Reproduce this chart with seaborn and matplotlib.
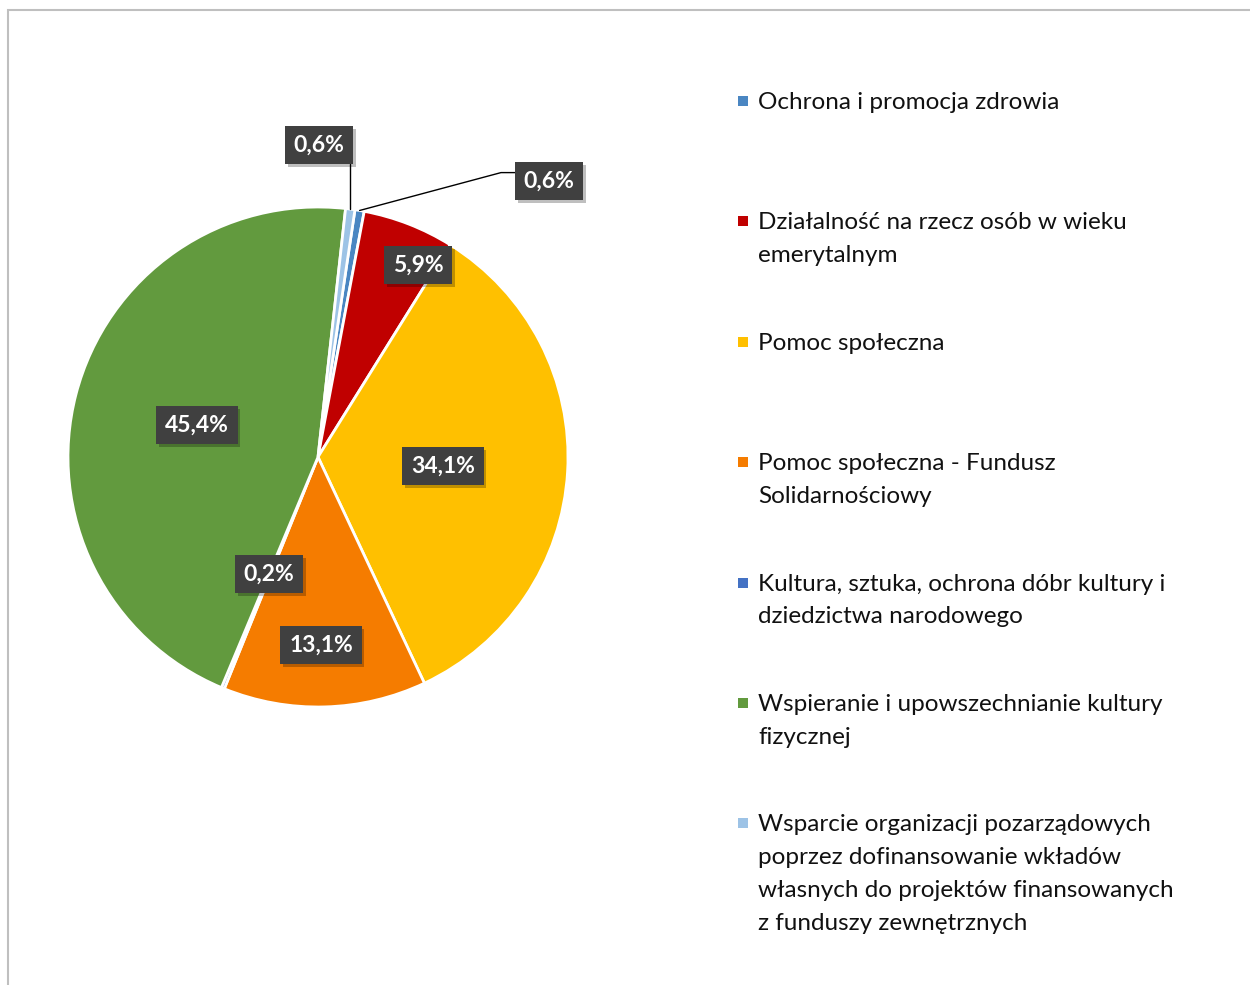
import matplotlib
matplotlib.use('Agg')
import matplotlib.pyplot as plt
import matplotlib.patheffects as pe
from matplotlib.patches import Rectangle
import numpy as np
import seaborn as sns

categories = [
    'Ochrona i promocja zdrowia',
    'Działalność na rzecz osób w wieku\nemerytalnym',
    'Pomoc społeczna',
    'Pomoc społeczna - Fundusz\nSolidarnościowy',
    'Kultura, sztuka, ochrona dóbr kultury i\ndziedzictwa narodowego',
    'Wspieranie i upowszechnianie kultury\nfizycznej',
    'Wsparcie organizacji pozarządowych\npoprzez dofinansowanie wkładów\n'
    'własnych do projektów finansowanych\nz funduszy zewnętrznych',
]
shares = [0.6, 5.9, 34.1, 13.1, 0.2, 45.4, 0.6]
value_labels = ['0,6%', '5,9%', '34,1%', '13,1%', '0,2%', '45,4%', '0,6%']
colors = ['#4A86C2', '#C00000', '#FFC000', '#F57C00', '#4472C4', '#629A3E', '#9DC3E6']

# label centres in pie units (radius = 1)
label_pos = [(0.924, 1.104), (0.40, 0.768), (0.50, -0.036), (0.012, -0.752),
             (-0.196, -0.468), (-0.484, 0.128), (0.004, 1.248)]

sns.set_theme(style='white')
plt.rcParams['font.family'] = ['Lato', 'DejaVu Sans']

W, H = 1250, 985
fig = plt.figure(figsize=(W / 100, H / 100), dpi=100)

# outer chart frame (only top and left edges visible)
fig.add_artist(Rectangle((8 / W, -0.1), 1.2, 1.1 - 9.5 / H, transform=fig.transFigure,
                         fill=False, ec='#BFBFBF', lw=1.5))

cx, cy, r = 318, 457, 250
ax = fig.add_axes([(cx - r) / W, (H - cy - r) / H, 2 * r / W, 2 * r / H])
wedges, _ = ax.pie(shares, colors=colors, startangle=81.5, counterclock=False,
                   radius=1, wedgeprops=dict(edgecolor='white', linewidth=2))
ax.set_xlim(-1, 1)
ax.set_ylim(-1, 1)
ax.set_aspect('equal')
ax.axis('off')

box = dict(boxstyle='square,pad=0.38', fc='#404040', ec='none')
for i, (w, lab) in enumerate(zip(wedges, value_labels)):
    mid = np.deg2rad((w.theta1 + w.theta2) / 2)
    edge = (np.cos(mid), np.sin(mid))
    arrow = None
    if i == 0:
        arrow = dict(arrowstyle='-', color='black', lw=1, relpos=(0, 0.9),
                     shrinkA=0, shrinkB=0,
                     connectionstyle='angle,angleA=0,angleB=15,rad=0')
    elif i == 6:
        # vertical drop from the box down to the slice
        arrow = dict(arrowstyle='-', color='black', lw=1, relpos=(0.5, 0.5),
                     shrinkA=0, shrinkB=0,
                     connectionstyle='angle,angleA=0,angleB=90,rad=0')
    t = ax.annotate(lab, xy=edge, xytext=label_pos[i], ha='center', va='center',
                    color='white', fontsize=16.5, fontweight='bold', bbox=box,
                    arrowprops=arrow, zorder=5)
    t.get_bbox_patch().set_path_effects([
        pe.withSimplePatchShadow(offset=(2, -2), shadow_rgbFace='black', alpha=0.25),
        pe.Normal()])

# legend drawn entry by entry, evenly spaced like the original
for i, (cat, col) in enumerate(zip(categories, colors)):
    y = 101 + 120.4 * i
    fig.add_artist(Rectangle((738 / W, 1 - (y + 5) / H), 10 / W, 10 / H,
                             transform=fig.transFigure, fc=col, ec='none'))
    fig.text(758 / W, 1 - (y - 9) / H, cat, ha='left', va='top', fontsize=17.5,
             color='#111111', linespacing=1.69)

fig.savefig('out.png', dpi=100)
